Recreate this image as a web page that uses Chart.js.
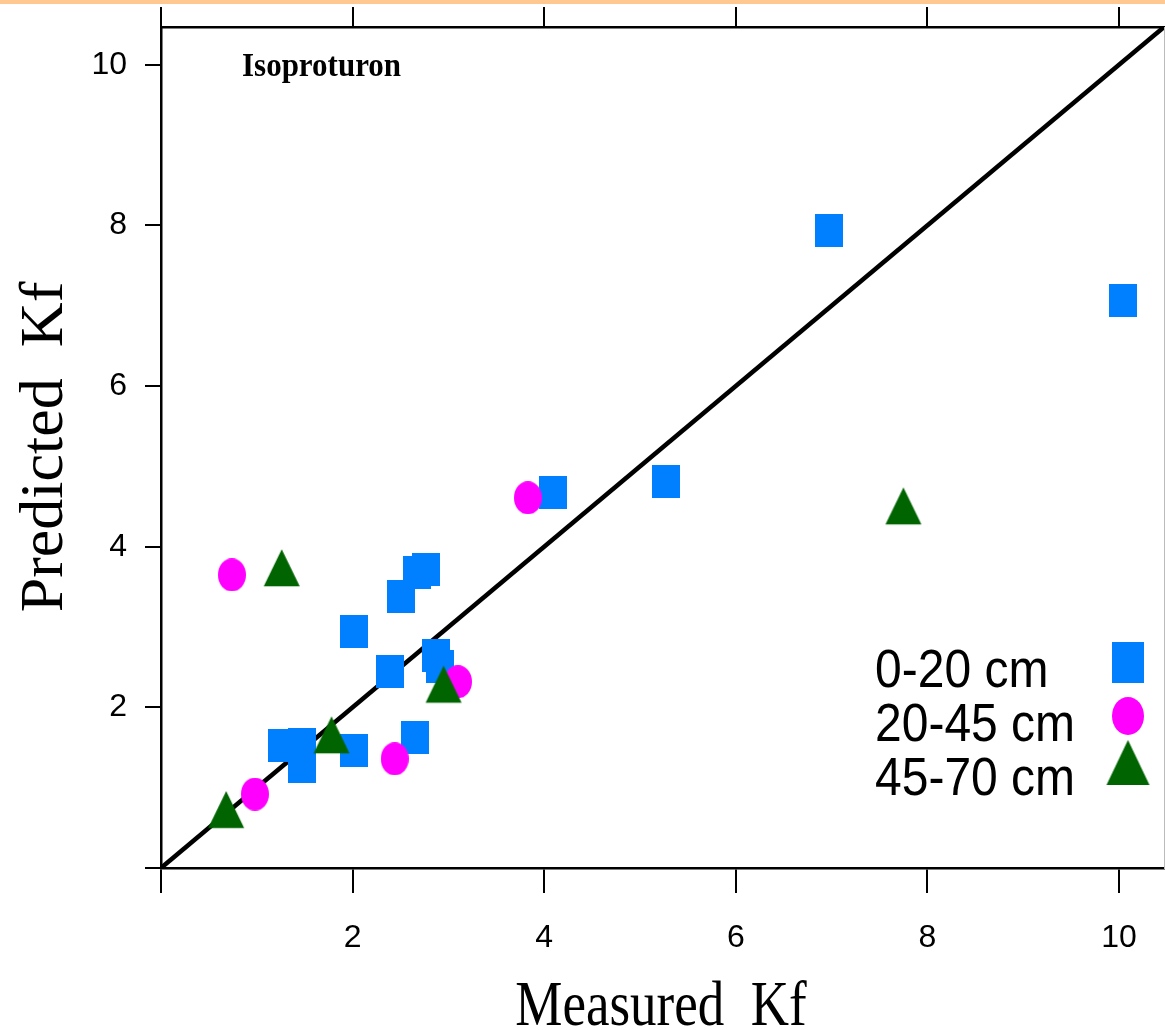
<!DOCTYPE html>
<html>
<head>
<meta charset="utf-8">
<title>Isoproturon Kf</title>
<script src="https://cdn.jsdelivr.net/npm/chart.js@4.4.1/dist/chart.umd.min.js"></script>
<style>
  html, body { margin: 0; padding: 0; background: #fff; }
  #wrap { width: 1165px; height: 1030px; }
</style>
</head>
<body>
<div id="wrap"><canvas id="kfChart" width="1165" height="1030"></canvas></div>
<script>
// Measured vs predicted Kf, one series per soil depth
const depthLabels = ['0-20 cm', '20-45 cm', '45-70 cm'];

const measured020 = [6.97, 10.04, 4.09, 5.27, 2.51, 2.67, 2.77, 2.01, 2.39, 2.87, 2.91, 1.26, 1.47, 1.47, 2.01, 2.65];
const predicted020 = [7.94, 7.06, 4.67, 4.81, 3.38, 3.68, 3.71, 2.95, 2.45, 2.65, 2.51, 1.52, 1.54, 1.26, 1.46, 1.62];

const measured2045 = [0.74, 0.98, 2.44, 3.10, 3.83];
const predicted2045 = [3.65, 0.92, 1.36, 2.32, 4.61];

const measured4570 = [1.26, 1.78, 0.68, 2.95, 7.75];
const predicted4570 = [3.66, 1.58, 0.65, 2.21, 4.43];

const tickValues = [0, 2, 4, 6, 8, 10];
const axisMax = 10.47;

const panelTitle = 'Isoproturon';
const xTitle = 'Measured  Kf';
const yTitle = 'Predicted  Kf';

// R-style filled symbols, drawn once on small canvases
function makeMarker(shape, color, w, h) {
  const c = document.createElement('canvas');
  const g = c.getContext('2d');
  if (shape === 'triangle') {
    // keep the centroid in the middle of the canvas
    const half = Math.ceil(h * 2 / 3);
    c.width = w + 2;
    c.height = half * 2;
    g.fillStyle = color;
    g.beginPath();
    g.moveTo(c.width / 2, half - h * 2 / 3);
    g.lineTo(c.width / 2 + w / 2, half + h / 3);
    g.lineTo(c.width / 2 - w / 2, half + h / 3);
    g.closePath();
    g.fill();
  } else if (shape === 'circle') {
    c.width = w;
    c.height = h;
    g.fillStyle = color;
    g.beginPath();
    g.ellipse(w / 2, h / 2, w / 2, h / 2, 0, 0, Math.PI * 2);
    g.fill();
  } else {
    c.width = w;
    c.height = h;
    g.fillStyle = color;
    g.fillRect(0, 0, w, h);
  }
  return c;
}

const squareMark = makeMarker('rect', '#0080ff', 28, 33);
const circleMark = makeMarker('circle', '#ff00ff', 28, 33);
const triangleMark = makeMarker('triangle', '#006400', 36, 37);

const legendMarks = [
  makeMarker('rect', '#0080ff', 32, 41),
  makeMarker('circle', '#ff00ff', 32, 38),
  makeMarker('triangle', '#006400', 43, 45)
];

function toPoints(xs, ys) {
  return xs.map((x, i) => ({ x: x, y: ys[i] }));
}

function scaledText(ctx, text, x, y, font, sy, align) {
  ctx.save();
  ctx.translate(x, y);
  ctx.scale(1, sy);
  ctx.font = font;
  ctx.fillStyle = '#000';
  ctx.textAlign = align;
  ctx.textBaseline = 'alphabetic';
  ctx.fillText(text, 0, 0);
  ctx.restore();
}

const decorations = {
  id: 'decorations',
  beforeDraw(chart) {
    const ctx = chart.ctx;
    ctx.save();
    ctx.fillStyle = '#fff';
    ctx.fillRect(0, 0, chart.width, chart.height);
    ctx.fillStyle = '#ffc891';
    ctx.fillRect(0, 0, chart.width, 4);
    ctx.restore();
  },
  afterDraw(chart) {
    const ctx = chart.ctx;
    const serif = '"Liberation Serif", "Times New Roman", serif';

    scaledText(ctx, panelTitle, 242, 76, 'bold 31px ' + serif, 1.1, 'left');
    scaledText(ctx, xTitle, 661, 1025, '53px ' + serif, 1.2, 'center');

    ctx.save();
    ctx.translate(62, 447);
    ctx.rotate(-Math.PI / 2);
    ctx.font = '62px ' + serif;
    ctx.fillStyle = '#000';
    ctx.textAlign = 'center';
    ctx.textBaseline = 'alphabetic';
    ctx.fillText(yTitle, 0, 0);
    ctx.restore();

    // legend inside the plot, symbols to the right of the text
    depthLabels.forEach((label, i) => {
      const base = 687 + i * 54;
      scaledText(ctx, label, 875, base, '48px "Liberation Sans", Arial, sans-serif', 1.11, 'left');
      const m = legendMarks[i];
      ctx.drawImage(m, 1128 - m.width / 2, base - 25 - m.height / 2);
    });
  }
};

const tickFont = { family: '"Liberation Sans Narrow", "Arial Narrow", "Liberation Sans", sans-serif', size: 32 };

function fixedTicks(scale) {
  scale.ticks = tickValues.map(v => ({ value: v }));
}

// fixed axis box sizes; drop the label overhang padding so the plot box stays put
function fixSize(w, h) {
  return s => {
    if (w !== null) s.width = w;
    if (h !== null) s.height = h;
    s.paddingTop = 0;
    s.paddingBottom = 0;
    s.paddingLeft = 0;
    s.paddingRight = 0;
  };
}

const hideZero = v => (v === 0 ? '' : String(v));

new Chart(document.getElementById('kfChart'), {
  type: 'scatter',
  data: {
    datasets: [
      {
        type: 'line',
        label: '1:1',
        data: [{ x: 0, y: 0 }, { x: axisMax, y: axisMax }],
        borderColor: '#000',
        borderWidth: 4.5,
        pointRadius: 0,
        order: 4
      },
      {
        label: depthLabels[0],
        data: toPoints(measured020, predicted020),
        pointStyle: squareMark,
        order: 3
      },
      {
        label: depthLabels[1],
        data: toPoints(measured2045, predicted2045),
        pointStyle: circleMark,
        order: 2
      },
      {
        label: depthLabels[2],
        data: toPoints(measured4570, predicted4570),
        pointStyle: triangleMark,
        order: 1
      }
    ]
  },
  options: {
    responsive: false,
    devicePixelRatio: 1,
    animation: false,
    events: [],
    layout: { padding: 0, autoPadding: false },
    plugins: {
      legend: { display: false },
      tooltip: { enabled: false },
      title: { display: false }
    },
    scales: {
      x: {
        type: 'linear',
        position: 'bottom',
        min: 0,
        max: axisMax,
        afterBuildTicks: fixedTicks,
        afterFit: fixSize(null, 162),
        border: { display: true, color: '#000', width: 2.5 },
        grid: { drawOnChartArea: false, drawTicks: true, tickLength: 25, color: '#000', lineWidth: 2 },
        ticks: { color: '#000', font: tickFont, padding: 26, maxRotation: 0, autoSkip: false, callback: hideZero }
      },
      xTop: {
        type: 'linear',
        position: 'top',
        min: 0,
        max: axisMax,
        afterBuildTicks: fixedTicks,
        afterFit: fixSize(null, 27),
        border: { display: true, color: '#000', width: 2.5 },
        grid: { drawOnChartArea: false, drawTicks: true, tickLength: 20, color: '#000', lineWidth: 2 },
        ticks: { display: false }
      },
      y: {
        type: 'linear',
        position: 'left',
        min: 0,
        max: axisMax,
        afterBuildTicks: fixedTicks,
        afterFit: fixSize(161, null),
        border: { display: true, color: '#000', width: 2.5 },
        grid: { drawOnChartArea: false, drawTicks: true, tickLength: 16, color: '#000', lineWidth: 2 },
        ticks: { color: '#000', font: tickFont, padding: 18, autoSkip: false, callback: hideZero }
      },
      yRight: {
        type: 'linear',
        position: 'right',
        min: 0,
        max: axisMax,
        afterFit: fixSize(1, null),
        border: { display: true, color: '#bbb', width: 1 },
        grid: { display: false },
        ticks: { display: false }
      }
    }
  },
  plugins: [decorations]
});
</script>
</body>
</html>
